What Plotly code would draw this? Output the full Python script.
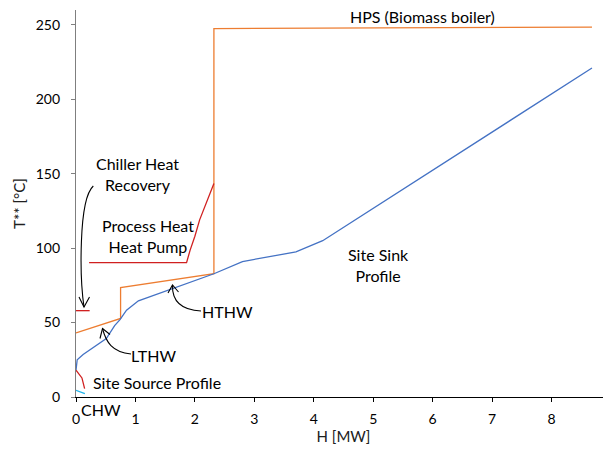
import plotly.graph_objects as go

# ---------------- data ----------------
hps_x = [0.0, 0.75, 0.75, 2.32, 2.32, 8.68]
hps_y = [43, 52.8, 73.5, 82.8, 247.5, 248.5]

sink_x = [0.0, 0.02, 0.12, 0.51, 0.65, 0.74, 0.85, 1.05, 2.32, 2.80, 3.70, 4.15, 8.68]
sink_y = [18, 25, 28.5, 39.3, 48, 52, 58.3, 64.6, 82.8, 91, 97.5, 105, 221]

hp_x = [0.22, 1.86, 1.92, 2.0, 2.08, 2.2, 2.32]
hp_y = [90.3, 90.3, 98.7, 108, 119, 131, 143.5]

chr_x = [0.0, 0.23]
chr_y = [58, 58]

src_x = [0.0, 0.10, 0.145]
src_y = [18, 12.8, 5.6]

chw_x = [0.0, 0.15]
chw_y = [4.5, 2.3]

x_ticks = [0, 1, 2, 3, 4, 5, 6, 7, 8, 9]
y_ticks = [0, 50, 100, 150, 200, 250]

# ---------------- layout helpers ----------------
OFF = 8                      # page body margin
W, H = 611 - OFF, 452 - OFF
L, R, T, B = 68, 0, 2, 55
XR = [0, 9]
YR = [0, 260]
pw = W - L - R
ph = H - T - B
X0 = OFF + L                 # screen pixel of plot left
Y0 = OFF + H - B             # screen pixel of plot bottom


def dx(px):
    return XR[0] + (px - X0) / pw * (XR[1] - XR[0])


def dy(py):
    return YR[0] + (Y0 - py) / ph * (YR[1] - YR[0])


def ppx(px):
    return (px - X0) / pw


def ppy(py):
    return (Y0 - py) / ph


ORANGE = "#ED7D31"
BLUE = "#4472C4"
RED = "#D02020"
CYAN = "#1FB4EC"

fig = go.Figure()


def add_line(x, y, color):
    fig.add_trace(go.Scatter(x=x, y=y, mode="lines",
                             line=dict(color=color, width=1.3),
                             hoverinfo="skip", showlegend=False, cliponaxis=False))


add_line(hps_x, hps_y, ORANGE)
add_line(sink_x, sink_y, BLUE)
add_line(hp_x, hp_y, RED)
add_line(chr_x, chr_y, RED)
add_line(src_x, src_y, RED)
add_line(chw_x, chw_y, CYAN)

FONT = "Lato, Calibri, sans-serif"
ann_font = dict(family=FONT, size=16, color="#000000")

texts = [
    ("HPS (Biomass boiler)", 422, 17),
    ("Chiller Heat<br>Recovery", 137.5, 174),
    ("Process Heat<br>Heat Pump", 148, 236),
    ("Site Sink<br>Profile", 378, 265),
    ("HTHW", 227, 311),
    ("LTHW", 153, 355),
    ("Site Source Profile", 157, 382),
    ("CHW", 101, 409),
]
for t, px, py in texts:
    fig.add_annotation(x=ppx(px), y=ppy(py), text=t, showarrow=False,
                       font=ann_font, xanchor="center", yanchor="middle",
                       xref="paper", yref="paper")


def P(px, py):
    return f"{dx(px)},{dy(py)}"


# curved arrows (pixel-designed, converted to data coords)
arrows = [
    # chiller heat recovery
    ("M " + P(93.3, 186) + " C " + P(78, 200) + " " + P(80, 280) + " " + P(84, 307),
     "M " + P(79, 297) + " L " + P(84, 307) + " L " + P(89.5, 297)),
    # HTHW
    ("M " + P(201, 311) + " C " + P(180, 310) + " " + P(172, 300) + " " + P(172.5, 285),
     "M " + P(168, 293) + " L " + P(172.5, 285) + " L " + P(178.5, 292)),
    # LTHW
    ("M " + P(131, 354) + " C " + P(112, 352) + " " + P(106, 342) + " " + P(102.5, 328.5),
     "M " + P(100, 338.5) + " L " + P(102.5, 328.5) + " L " + P(110, 334.5)),
]
for curve, head in arrows:
    fig.add_shape(type="path", path=curve, xref="x", yref="y",
                  line=dict(color="#000000", width=1.1))
    fig.add_shape(type="path", path=head, xref="x", yref="y",
                  line=dict(color="#000000", width=1.1))

fig.update_layout(
    width=W, height=H,
    margin=dict(l=L, r=R, t=T, b=B, pad=0, autoexpand=False),
    paper_bgcolor="white", plot_bgcolor="white",
    showlegend=False,
    font=dict(family=FONT, size=14, color="#404040"),
)
fig.update_xaxes(range=XR, tickvals=x_ticks, ticktext=[str(v) for v in x_ticks],
                 automargin=False, ticklabeloverflow="allow",
                 showgrid=False, zeroline=False, showline=True,
                 linecolor="#000000", linewidth=1.3,
                 ticks="outside", ticklen=4, tickcolor="#000000",
                 ticklabelstandoff=5,
                 tickfont=dict(family=FONT, size=14, color="#000000"),
                 title=dict(text="H [MW]", font=dict(family=FONT, size=15, color="#202020"),
                            standoff=5))
fig.update_yaxes(range=YR, tickvals=y_ticks, ticktext=[str(v) for v in y_ticks],
                 automargin=False,
                 showgrid=False, zeroline=False, showline=True,
                 linecolor="#7F7F7F", linewidth=1.3,
                 ticks="outside", ticklen=4, tickcolor="#7F7F7F",
                 ticklabelstandoff=8,
                 tickfont=dict(family=FONT, size=14, color="#000000"),
                 title=dict(text="T** [°C]", font=dict(family=FONT, size=15, color="#202020"),
                            standoff=6))

fig.write_html("out.html")
